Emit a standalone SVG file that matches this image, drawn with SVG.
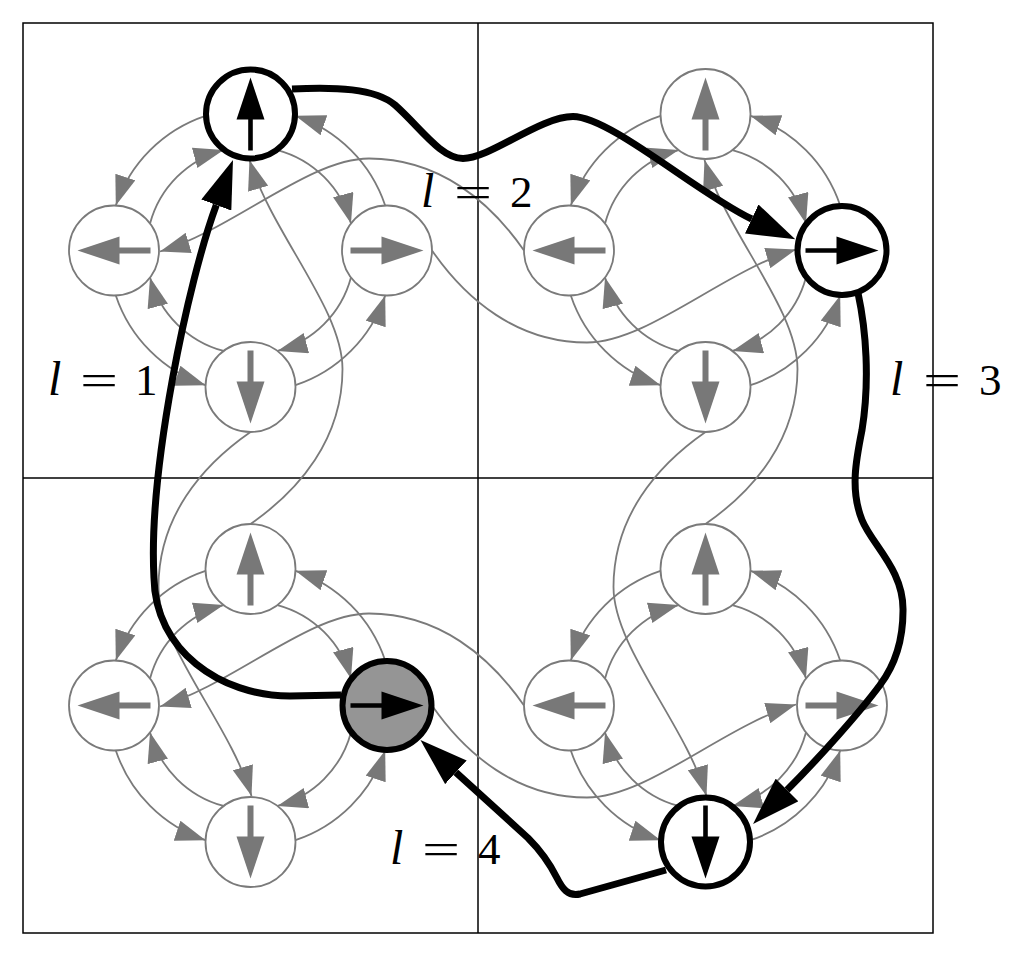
<svg xmlns="http://www.w3.org/2000/svg" width="1024" height="957" viewBox="0 0 1024 957">
<defs>
<style>
.frame{fill:none;stroke:#000;stroke-width:1.5}
.g{fill:none;stroke:#7a7a7a;stroke-width:1.8;marker-end:url(#ga)}
.b{fill:none;stroke:#000;stroke-width:7;stroke-linejoin:round;marker-end:url(#ba)}
.n circle{fill:#fff;stroke:#7a7a7a;stroke-width:1.8}
.n path{fill:#787878}
.k circle{fill:#fff;stroke:#000;stroke-width:6}
.k path{fill:#000}
.k.f circle{fill:#959595}
.lbl{font-family:"Liberation Serif","Times New Roman",serif;font-size:45px;fill:#000}
.it{font-style:italic;font-size:48px}
</style>
<marker id="ga" viewBox="-30 -10.5 30 21" refX="0" refY="0" markerWidth="30" markerHeight="21" markerUnits="userSpaceOnUse" orient="auto"><path d="M-30,-10.5L0,0L-30,10.5Z" fill="#787878"/></marker>
<marker id="ba" viewBox="0 -16 48 32" refX="0" refY="0" markerWidth="48" markerHeight="32" markerUnits="userSpaceOnUse" orient="auto"><path d="M0,-16L48,0L0,16Z" fill="#000"/></marker>
</defs>
<rect width="1024" height="957" fill="#fff"/>
<g id="frame" class="frame">
<rect x="23" y="23" width="910" height="910"/>
<line x1="478" y1="23" x2="478" y2="933"/>
<line x1="23" y1="478" x2="933" y2="478"/>
</g>
<g id="connectors">
<g id="arcs-tl" transform="translate(250.5,250.5)">
<path class="g" d="M26.92,-100.46A104,104 0 0 1 100.46,-26.92"/>
<path class="g" d="M100.46,26.92A104,104 0 0 1 26.92,100.46"/>
<path class="g" d="M-26.92,100.46A104,104 0 0 1 -100.46,26.92"/>
<path class="g" d="M-100.46,-26.92A104,104 0 0 1 -26.92,-100.46"/>
<path class="g" d="M-44.96,-134.69A142,142 0 0 0 -134.69,-44.96"/>
<path class="g" d="M-134.69,44.96A142,142 0 0 0 -44.96,134.69"/>
<path class="g" d="M44.96,134.69A142,142 0 0 0 134.69,44.96"/>
<path class="g" d="M134.69,-44.96A142,142 0 0 0 44.96,-134.69"/>
</g>
<g id="arcs-tr" transform="translate(705.5,250.5)">
<path class="g" d="M26.92,-100.46A104,104 0 0 1 100.46,-26.92"/>
<path class="g" d="M100.46,26.92A104,104 0 0 1 26.92,100.46"/>
<path class="g" d="M-26.92,100.46A104,104 0 0 1 -100.46,26.92"/>
<path class="g" d="M-100.46,-26.92A104,104 0 0 1 -26.92,-100.46"/>
<path class="g" d="M-44.96,-134.69A142,142 0 0 0 -134.69,-44.96"/>
<path class="g" d="M-134.69,44.96A142,142 0 0 0 -44.96,134.69"/>
<path class="g" d="M44.96,134.69A142,142 0 0 0 134.69,44.96"/>
<path class="g" d="M134.69,-44.96A142,142 0 0 0 44.96,-134.69"/>
</g>
<g id="arcs-bl" transform="translate(250.5,705.5)">
<path class="g" d="M26.92,-100.46A104,104 0 0 1 100.46,-26.92"/>
<path class="g" d="M100.46,26.92A104,104 0 0 1 26.92,100.46"/>
<path class="g" d="M-26.92,100.46A104,104 0 0 1 -100.46,26.92"/>
<path class="g" d="M-100.46,-26.92A104,104 0 0 1 -26.92,-100.46"/>
<path class="g" d="M-44.96,-134.69A142,142 0 0 0 -134.69,-44.96"/>
<path class="g" d="M-134.69,44.96A142,142 0 0 0 -44.96,134.69"/>
<path class="g" d="M44.96,134.69A142,142 0 0 0 134.69,44.96"/>
<path class="g" d="M134.69,-44.96A142,142 0 0 0 44.96,-134.69"/>
</g>
<g id="arcs-br" transform="translate(705.5,705.5)">
<path class="g" d="M26.92,-100.46A104,104 0 0 1 100.46,-26.92"/>
<path class="g" d="M100.46,26.92A104,104 0 0 1 26.92,100.46"/>
<path class="g" d="M-26.92,100.46A104,104 0 0 1 -100.46,26.92"/>
<path class="g" d="M-100.46,-26.92A104,104 0 0 1 -26.92,-100.46"/>
<path class="g" d="M-44.96,-134.69A142,142 0 0 0 -134.69,-44.96"/>
<path class="g" d="M-134.69,44.96A142,142 0 0 0 -44.96,134.69"/>
<path class="g" d="M44.96,134.69A142,142 0 0 0 134.69,44.96"/>
<path class="g" d="M134.69,-44.96A142,142 0 0 0 44.96,-134.69"/>
</g>
<g id="links">
<path class="g" transform="translate(387,250.5)" d="M45,0C79,49 130,92 200,92C260,92 336,21 409,-1"/>
<path class="g" transform="translate(569,250.5) rotate(180)" d="M45,0C79,49 130,92 200,92C260,92 336,21 409,-1"/>
<path class="g" transform="translate(250.5,569) rotate(-90)" d="M45,0C79,49 130,92 200,92C260,92 336,21 409,-1"/>
<path class="g" transform="translate(250.5,387) rotate(90)" d="M45,0C79,49 130,92 200,92C260,92 336,21 409,-1"/>
<path class="g" transform="translate(705.5,569) rotate(-90)" d="M45,0C79,49 130,92 200,92C260,92 336,21 409,-1"/>
<path class="g" transform="translate(705.5,387) rotate(90)" d="M45,0C79,49 130,92 200,92C260,92 336,21 409,-1"/>
<path class="g" transform="translate(387,705.5)" d="M45,0C79,49 130,92 200,92C260,92 336,21 409,-1"/>
<path class="g" transform="translate(569,705.5) rotate(180)" d="M45,0C79,49 130,92 200,92C260,92 336,21 409,-1"/>
</g>
</g>
<g id="nodes">
<g id="tl-up" class="k" transform="translate(250.5,114)"><circle r="44.5"/><path transform="rotate(-90)" d="M-36.5,-2.3L-5.5,-2.3L-5.5,-14L36.5,0L-5.5,14L-5.5,2.3L-36.5,2.3Z"/></g>
<g id="tl-left" class="n" transform="translate(114,250.5)"><circle r="45"/><path transform="rotate(180)" d="M-36.5,-3L-5.5,-3L-5.5,-14L36.5,0L-5.5,14L-5.5,3L-36.5,3Z"/></g>
<g id="tl-right" class="n" transform="translate(387,250.5)"><circle r="45"/><path d="M-36.5,-3L-5.5,-3L-5.5,-14L36.5,0L-5.5,14L-5.5,3L-36.5,3Z"/></g>
<g id="tl-down" class="n" transform="translate(250.5,387)"><circle r="45"/><path transform="rotate(90)" d="M-36.5,-3L-5.5,-3L-5.5,-14L36.5,0L-5.5,14L-5.5,3L-36.5,3Z"/></g>
<g id="tr-up" class="n" transform="translate(705.5,114)"><circle r="45"/><path transform="rotate(-90)" d="M-36.5,-3L-5.5,-3L-5.5,-14L36.5,0L-5.5,14L-5.5,3L-36.5,3Z"/></g>
<g id="tr-left" class="n" transform="translate(569,250.5)"><circle r="45"/><path transform="rotate(180)" d="M-36.5,-3L-5.5,-3L-5.5,-14L36.5,0L-5.5,14L-5.5,3L-36.5,3Z"/></g>
<g id="tr-right" class="k" transform="translate(842,250.5)"><circle r="44.5"/><path d="M-36.5,-2.3L-5.5,-2.3L-5.5,-14L36.5,0L-5.5,14L-5.5,2.3L-36.5,2.3Z"/></g>
<g id="tr-down" class="n" transform="translate(705.5,387)"><circle r="45"/><path transform="rotate(90)" d="M-36.5,-3L-5.5,-3L-5.5,-14L36.5,0L-5.5,14L-5.5,3L-36.5,3Z"/></g>
<g id="bl-up" class="n" transform="translate(250.5,569)"><circle r="45"/><path transform="rotate(-90)" d="M-36.5,-3L-5.5,-3L-5.5,-14L36.5,0L-5.5,14L-5.5,3L-36.5,3Z"/></g>
<g id="bl-left" class="n" transform="translate(114,705.5)"><circle r="45"/><path transform="rotate(180)" d="M-36.5,-3L-5.5,-3L-5.5,-14L36.5,0L-5.5,14L-5.5,3L-36.5,3Z"/></g>
<g id="bl-right" class="k f" transform="translate(387,705.5)"><circle r="44.5"/><path d="M-36.5,-2.3L-5.5,-2.3L-5.5,-14L36.5,0L-5.5,14L-5.5,2.3L-36.5,2.3Z"/></g>
<g id="bl-down" class="n" transform="translate(250.5,842)"><circle r="45"/><path transform="rotate(90)" d="M-36.5,-3L-5.5,-3L-5.5,-14L36.5,0L-5.5,14L-5.5,3L-36.5,3Z"/></g>
<g id="br-up" class="n" transform="translate(705.5,569)"><circle r="45"/><path transform="rotate(-90)" d="M-36.5,-3L-5.5,-3L-5.5,-14L36.5,0L-5.5,14L-5.5,3L-36.5,3Z"/></g>
<g id="br-left" class="n" transform="translate(569,705.5)"><circle r="45"/><path transform="rotate(180)" d="M-36.5,-3L-5.5,-3L-5.5,-14L36.5,0L-5.5,14L-5.5,3L-36.5,3Z"/></g>
<g id="br-right" class="n" transform="translate(842,705.5)"><circle r="45"/><path d="M-36.5,-3L-5.5,-3L-5.5,-14L36.5,0L-5.5,14L-5.5,3L-36.5,3Z"/></g>
<g id="br-down" class="k" transform="translate(705.5,842)"><circle r="44.5"/><path transform="rotate(90)" d="M-36.5,-2.3L-5.5,-2.3L-5.5,-14L36.5,0L-5.5,14L-5.5,2.3L-36.5,2.3Z"/></g>
</g>
<g id="walk">
<path id="walk-l1" class="b" d="M341,695L290,696C220,696 155,650 154,578C148,470 188.5,280 216.3,205"/>
<path id="walk-l2" class="b" d="M292,89C335,87 375,88 395,105C420,127 440,158 463,158.5C490,158.5 540,116.5 573,116.5C610,116.5 700,195 751.7,219"/>
<path id="walk-l3" class="b" d="M858,293C866,330 870,380 862,430C856,460 850,490 862,520C872,545 904,570 903,611C903,640 895,665 880,685C860,712 820,757 787,790"/>
<path id="walk-l4" class="b" d="M666,870L580,894C568,897 562,888 557,878C550,864 540,850 528,838L455.9,772.3"/>
</g>
<g id="labels" class="lbl">
<text x="48" y="395" class="it">l</text><text transform="translate(80,395) scale(1.5,1)">=</text><text x="135" y="395">1</text>
<text x="421" y="207" class="it">l</text><text transform="translate(454,207) scale(1.5,1)">=</text><text x="510" y="207">2</text>
<text x="890" y="395" class="it">l</text><text transform="translate(923,395) scale(1.5,1)">=</text><text x="979" y="395">3</text>
<text x="390" y="864" class="it">l</text><text transform="translate(422,864) scale(1.5,1)">=</text><text x="478" y="864">4</text>
</g>
</svg>
